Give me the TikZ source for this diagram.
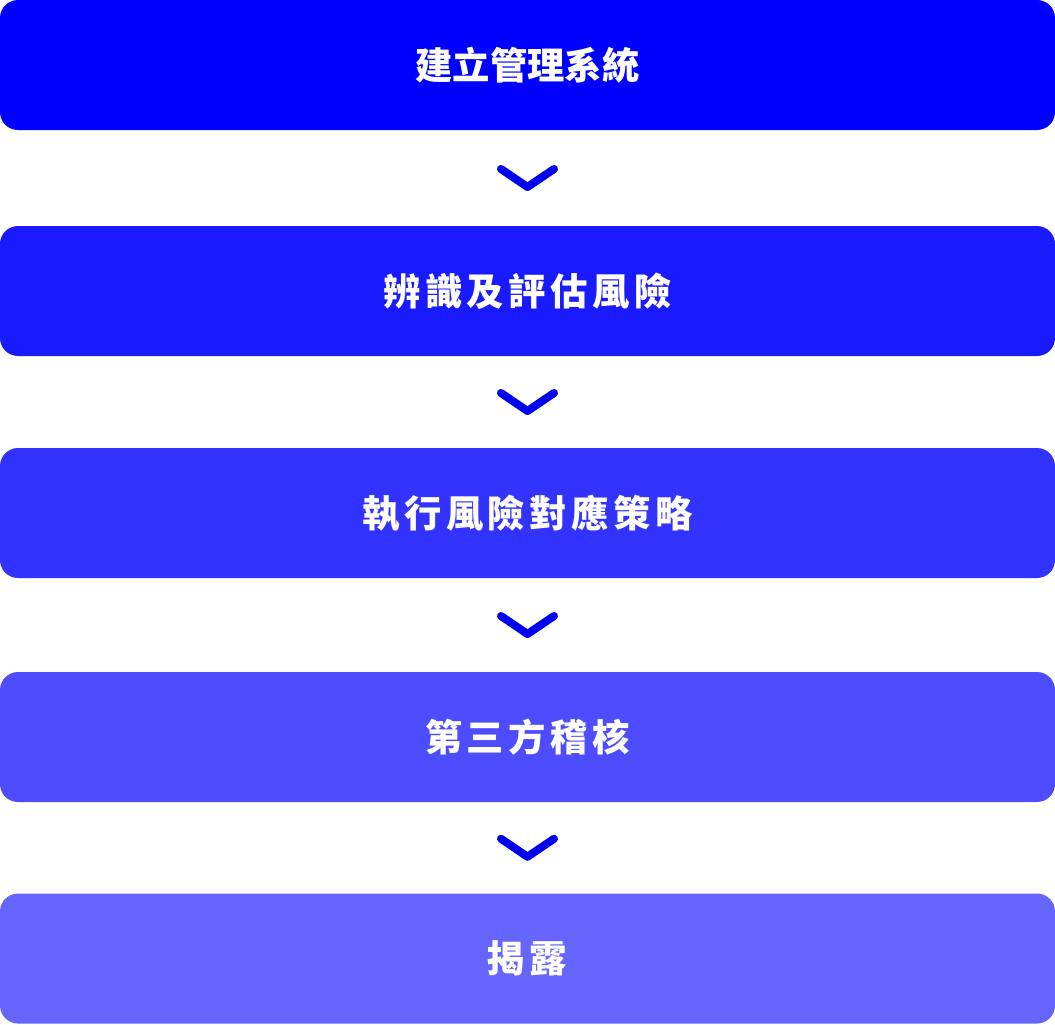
\documentclass[tikz,border=0pt]{standalone}
\usepackage{fontspec}
\usetikzlibrary{calc}
\newfontfamily\cjk[LetterSpace=12]{Noto Sans CJK TC}
\newfontfamily\cjknarrow{Noto Sans CJK TC}
\definecolor{cA}{HTML}{0000FF}
\definecolor{cB}{HTML}{1A1AFF}
\definecolor{cC}{HTML}{3333FF}
\definecolor{cD}{HTML}{4D4DFF}
\definecolor{cE}{HTML}{6666FF}
\definecolor{chev}{HTML}{0000F0}
\tikzset{
  stagebox/.style={rectangle, rounded corners=13.5pt, minimum width=791.25pt, minimum height=97.5pt, inner sep=0pt, text=white, font=\cjk\bfseries\fontsize{28}{32}\selectfont},
  chevron/.style={draw=chev, line width=6pt, line cap=round, line join=round}
}
\begin{document}
\begin{tikzpicture}[x=0.75pt,y=-0.75pt]
\useasboundingbox (0,0) rectangle (1055,1024);
\node[stagebox, fill=cA, font=\cjknarrow\bfseries\fontsize{28}{32}\selectfont] (s1) at (527.5,65) {建立管理系統};
\node[stagebox, fill=cB] (s2) at (527.5,291) {辨識及評估風險};
\node[stagebox, fill=cC] (s3) at (527.5,513) {執行風險對應策略};
\node[stagebox, fill=cD] (s4) at (527.5,737) {第三方稽核};
\node[stagebox, fill=cE] (s5) at (527.5,958.5) {揭露};
\foreach \a/\b [count=\i] in {s1/s2,s2/s3,s3/s4,s4/s5}{
  \coordinate (m\i) at ($(\a.south)!0.5!(\b.north)$);
  \draw[chevron] ($(m\i)+(-26.5,-9)$) -- ($(m\i)+(0,9)$) -- ($(m\i)+(26.5,-9)$);
}
\end{tikzpicture}
\end{document}
